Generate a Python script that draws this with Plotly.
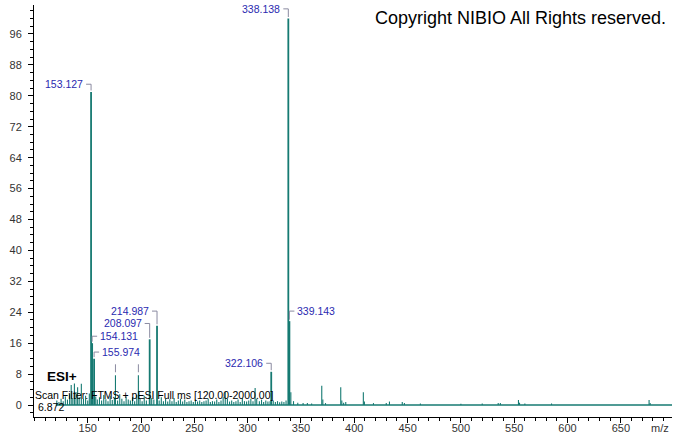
import plotly.graph_objects as go

# ---------------- data ----------------
# labelled peaks (m/z, relative intensity)
label_mz = [153.127, 338.138, 339.143, 214.987, 208.097, 154.131, 155.974, 322.106]
label_int = [81.0, 100.0, 21.7, 20.5, 17.0, 16.0, 12.0, 8.6]
label_side = ["L", "L", "R", "L", "L", "R", "R", "L"]
label_y = [83.0, 102.5, 24.3, 24.3, 21.1, 17.8, 13.7, 10.8]

# peaks whose labels were suppressed (only marker shown)
hidden_mz = [176.0, 197.5]
hidden_int = [7.7, 7.7]

# other (unlabelled) peaks
noise_mz = [121, 123, 125, 127, 129, 131, 133, 134.5, 136, 137.5, 139, 140.5, 142, 144, 146, 148,
            150, 151.5, 157.5, 159, 161, 163, 165, 167, 169, 171, 173, 175, 178, 180, 182, 184,
            186, 188, 190, 192, 194, 196, 199, 201, 203, 205, 210, 212, 217, 219, 221, 223,
            225, 227, 229, 231, 233, 235, 237, 239, 241, 243, 245, 247, 249, 251, 253, 255,
            257, 259, 261, 263, 265, 267, 269, 271, 273, 275, 277, 279, 281, 283, 285, 287,
            289, 291, 293, 295, 297, 299, 301, 303, 305, 307, 308.5, 311, 313, 315, 317, 319,
            321, 324, 326, 328, 330, 332, 334, 336, 340.5, 343, 347, 352, 356, 360, 369.5,
            370.5, 373, 387.3, 388.3, 390, 392, 408.5, 409.5, 418, 430, 433, 445, 447, 462,
            500, 520, 535, 537, 554, 555, 560, 585, 676.5, 677.5]
noise_int = [1.2, 0.8, 1.6, 1.0, 2.2, 1.4, 2.8, 5.2, 1.8, 5.6, 3.4, 4.6, 2.0, 5.5, 1.6, 2.4,
             1.2, 3.0, 2.2, 1.4, 2.0, 1.2, 2.6, 1.5, 1.0, 2.4, 1.3, 1.8, 1.2, 2.8, 1.6, 1.0,
             2.2, 1.4, 1.2, 2.0, 1.0, 2.6, 1.6, 1.0, 2.4, 1.2, 1.8, 1.4, 1.2, 2.0, 1.0, 1.6,
             0.9, 1.5, 1.0, 1.8, 0.8, 1.2, 1.6, 0.9, 1.4, 0.8, 1.0, 1.2, 0.8, 1.4, 0.9, 1.2,
             0.8, 1.0, 1.2, 1.6, 0.8, 1.0, 0.9, 1.4, 0.8, 1.2, 2.0, 3.4, 1.6, 0.9, 1.2, 0.8,
             1.0, 1.4, 0.8, 1.8, 1.0, 0.9, 1.2, 1.6, 1.0, 4.4, 1.6, 1.0, 1.4, 0.8, 1.2, 0.9,
             1.0, 1.2, 0.8, 1.0, 0.7, 0.9, 0.8, 1.2, 3.3, 1.0, 0.6, 0.5, 0.5, 0.4, 5.0,
             1.4, 0.5, 4.6, 1.2, 0.6, 0.8, 3.3, 0.9, 0.5, 0.5, 0.9, 0.8, 0.5, 0.4,
             0.3, 0.4, 0.5, 0.5, 1.3, 0.6, 0.4, 0.4, 1.3, 0.5]

scan_range = [120.0, 698.0]
x_ticks = [150, 200, 250, 300, 350, 400, 450, 500, 550, 600, 650]
y_ticks = [0, 8, 16, 24, 32, 40, 48, 56, 64, 72, 80, 88, 96]

# ---------------- style ----------------
TEAL = "#167a72"
BLUE = "#2a2ab0"
GRAY = "#8a8aa0"
FONT = "Liberation Sans, Arial, sans-serif"
PX_PER_MZ = 1.066
PX_PER_INT = 3.875


def sticks(mz, inten):
    xs, ys = [], []
    for m, h in zip(mz, inten):
        xs += [m, m, None]
        ys += [0, h, None]
    return xs, ys


fig = go.Figure()

# baseline
fig.add_trace(go.Scatter(x=scan_range, y=[0, 0], mode="lines",
                         line=dict(color=TEAL, width=1.5), hoverinfo="skip", showlegend=False))
nx, ny = sticks(noise_mz + hidden_mz, noise_int + hidden_int)
fig.add_trace(go.Scatter(x=nx, y=ny, mode="lines", line=dict(color=TEAL, width=1.1),
                         hoverinfo="skip", showlegend=False))
lx, ly = sticks(label_mz, label_int)
fig.add_trace(go.Scatter(x=lx, y=ly, mode="lines", line=dict(color=TEAL, width=1.8),
                         hoverinfo="skip", showlegend=False))

shapes = []
annotations = []
hlen = 5 / PX_PER_MZ
gap = 1.5 / PX_PER_INT
for m, h, side, yb in zip(label_mz, label_int, label_side, label_y):
    if side == "L":
        x0 = m - hlen
        path = f"M {x0},{yb} L {m},{yb} L {m},{h + gap}"
        annotations.append(dict(x=x0, y=yb, xref="x", yref="y", text=f"{m:.3f}",
                                showarrow=False, xanchor="right", yanchor="middle",
                                xshift=-1, font=dict(family=FONT, size=10.5, color=BLUE)))
    else:
        x1 = m + hlen
        path = f"M {x1},{yb} L {m},{yb} L {m},{h + gap}"
        annotations.append(dict(x=x1, y=yb, xref="x", yref="y", text=f"{m:.3f}",
                                showarrow=False, xanchor="left", yanchor="middle",
                                xshift=1, font=dict(family=FONT, size=10.5, color=BLUE)))
    shapes.append(dict(type="path", path=path, xref="x", yref="y",
                       line=dict(color=GRAY, width=1)))

for m, h in zip(hidden_mz, hidden_int):
    shapes.append(dict(type="line", xref="x", yref="y", x0=m, x1=m,
                       y0=h + 3 / PX_PER_INT, y1=h + 11 / PX_PER_INT,
                       line=dict(color=GRAY, width=1)))

annotations += [
    dict(x=1, y=1, xref="paper", yref="paper", xanchor="right", yanchor="top",
         xshift=-4, yshift=-1, showarrow=False, text="Copyright NIBIO All Rights reserved.",
         font=dict(family=FONT, size=18, color="black")),
    dict(x=0, y=0, xref="paper", yref="y", xanchor="left", yanchor="middle",
         xshift=11, yshift=29, showarrow=False, text="<b>ESI+</b>",
         font=dict(family=FONT, size=13.5, color="black")),
    dict(x=0, y=0, xref="paper", yref="y", xanchor="left", yanchor="middle",
         xshift=-1, yshift=10, showarrow=False,
         text="Scan Filter: FTMS + pESI Full ms [120.00-2000.00]",
         font=dict(family=FONT, size=10.5, color="black")),
    dict(x=0, y=0, xref="paper", yref="y", xanchor="left", yanchor="middle",
         xshift=2, yshift=-2, showarrow=False, text="6.872",
         font=dict(family=FONT, size=10.5, color="black")),
    dict(x=1, y=0, xref="paper", yref="paper", xanchor="right", yanchor="top",
         xshift=-1, yshift=-3, showarrow=False, text="m/z",
         font=dict(family=FONT, size=11, color="#333333")),
]

fig.update_layout(
    width=674, height=434,
    margin=dict(l=34, r=2, t=5, b=17, autoexpand=False),
    paper_bgcolor="white", plot_bgcolor="white",
    shapes=shapes, annotations=annotations,
    showlegend=False,
    xaxis=dict(range=[99.6, 698.0], tickmode="array", tickvals=x_ticks, automargin=False,
               showline=True, linecolor="black", linewidth=1, ticks="outside",
               ticklen=5, tickcolor="black", showgrid=False, zeroline=False,
               ticklabelstandoff=-4,
               tickfont=dict(family=FONT, size=11, color="#333333"),
               minor=dict(tickmode="linear", tick0=0, dtick=10, ticks="outside",
                          ticklen=3, tickcolor="black", showgrid=False)),
    yaxis=dict(range=[-3.1, 103.5], tickmode="array", tickvals=y_ticks, automargin=False,
               showline=True, linecolor="black", linewidth=1, ticks="outside",
               ticklen=5, tickcolor="black", showgrid=False, zeroline=False,
               ticklabelstandoff=4,
               tickfont=dict(family=FONT, size=11, color="#333333"),
               minor=dict(tickmode="linear", tick0=0, dtick=2, ticks="outside",
                          ticklen=3, tickcolor="black", showgrid=False)),
)

fig.write_html("out.html", config={"displayModeBar": False},
               post_script="document.body.style.margin='0';document.body.style.overflow='hidden';")
